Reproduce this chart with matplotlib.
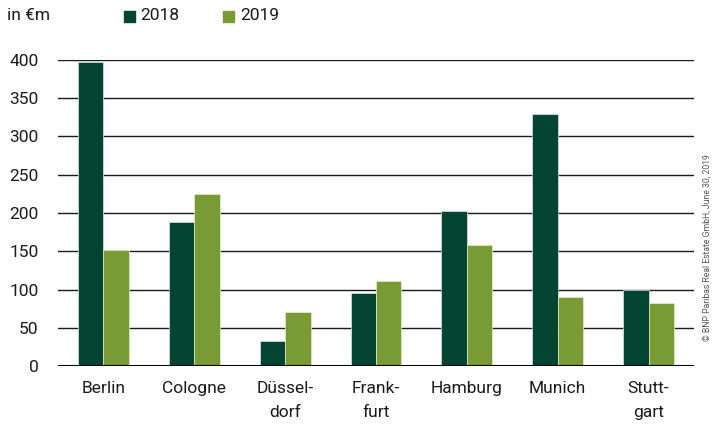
import matplotlib
matplotlib.use("Agg")
import matplotlib.pyplot as plt
import numpy as np

cities = ["Berlin", "Cologne", "Düssel-\ndorf", "Frank-\nfurt", "Hamburg", "Munich", "Stutt-\ngart"]
vals_2018 = [398, 188, 33, 95, 203, 330, 100]
vals_2019 = [151, 225, 71, 111, 158, 90, 82]
yticks = [0, 50, 100, 150, 200, 250, 300, 350, 400]

dark = "#004431"
light = "#7a9a33"

plt.rcParams['font.family'] = ['Roboto', 'DejaVu Sans']

fig = plt.figure(figsize=(7.14, 4.26), dpi=100)
ax = fig.add_axes([58 / 714, 60 / 426, 636 / 714, 306 / 426])

x = np.arange(len(cities))
w = 0.28
ax.bar(x - w / 2, vals_2018, w, color=dark, edgecolor="#dfe8e2", linewidth=0.5, zorder=3)
ax.bar(x + w / 2, vals_2019, w, color=light, edgecolor="#e6edd6", linewidth=0.5, zorder=3)

ax.set_xlim(-0.5, len(cities) - 0.5)
ax.set_ylim(0, 400)
ax.set_yticks(yticks)
ax.set_yticklabels([str(v) for v in yticks])
ax.set_xticks(x)
ax.set_xticklabels(cities, linespacing=1.7)
for v in yticks[1:]:
    ax.axhline(v, color="#1a1a1a", lw=1.0, zorder=1)
ax.axhline(0, color="black", lw=2.2, zorder=4)
for s in ax.spines.values():
    s.set_visible(False)
ax.tick_params(axis="both", length=0, labelsize=12.5, colors="#1a1a1a")
ax.tick_params(axis="y", pad=14)
ax.tick_params(axis="x", pad=11)

fig.text(7 / 714, 1 - 16 / 426, "in €m", fontsize=12.5, va="center", ha="left", color="#1a1a1a")
fig.patches.append(plt.Rectangle((124 / 714, 1 - 22 / 426), 11 / 714, 11 / 426,
                                 transform=fig.transFigure, color=dark))
fig.text(140 / 714, 1 - 16 / 426, "2018", fontsize=12.5, va="center", ha="left", color="#1a1a1a")
fig.patches.append(plt.Rectangle((223 / 714, 1 - 22 / 426), 11 / 714, 11 / 426,
                                 transform=fig.transFigure, color=light))
fig.text(240 / 714, 1 - 16 / 426, "2019", fontsize=12.5, va="center", ha="left", color="#1a1a1a")

fig.text(707 / 714, 1 - 248 / 426, "© BNP Paribas Real Estate GmbH, June 30, 2019", rotation=90,
         fontsize=6.2, color="#555555", ha="center", va="center",
         family=['Liberation Sans Narrow', 'Roboto', 'DejaVu Sans'], fontstretch='condensed')

plt.savefig("out.png", dpi=100)
